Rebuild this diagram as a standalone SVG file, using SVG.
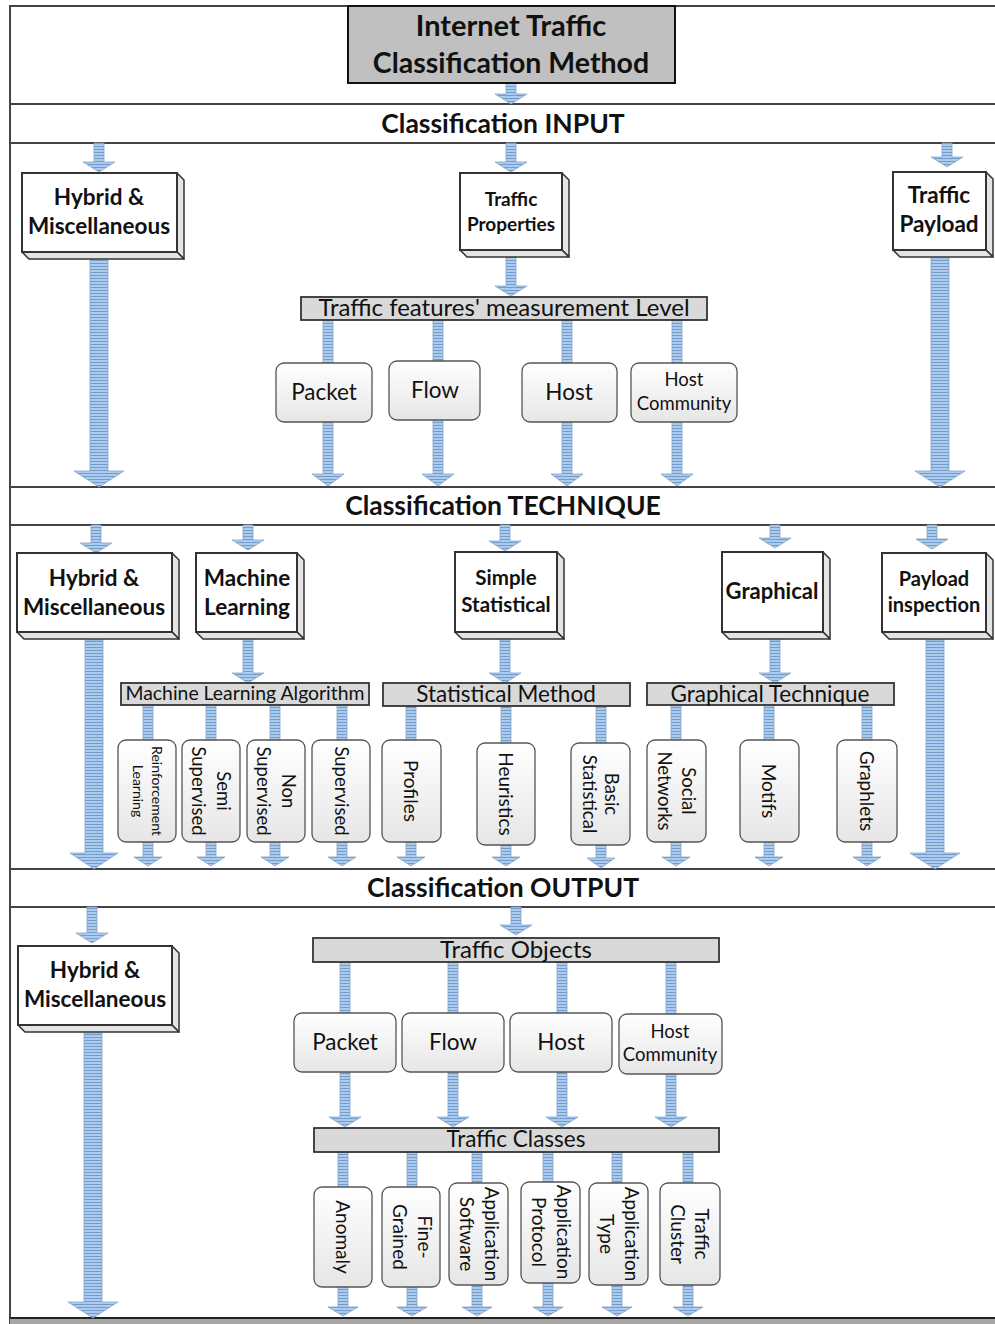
<svg xmlns="http://www.w3.org/2000/svg" width="995" height="1324" viewBox="0 0 995 1324">
<style>
text{font-family:Lato,"Liberation Sans",sans-serif;fill:#111;text-anchor:middle}
.b{font-weight:bold}
.band{font-weight:bold;font-size:26.5px}
.frame{stroke:#444;stroke-width:2;fill:none}
.front{fill:#fff;stroke:#333;stroke-width:2}
.side{fill:#e4e4e4;stroke:#333;stroke-width:1.5;stroke-linejoin:round}
.rbox{fill:url(#rg);stroke:#555;stroke-width:1.3}
.bar{fill:#d9d9d9;stroke:#333;stroke-width:1.8}
.arr{fill:url(#stripe);stroke:#86a5c8;stroke-width:0.8}
</style>
<defs>
<pattern id="stripe" patternUnits="userSpaceOnUse" width="8" height="3"><rect width="8" height="3" fill="#aecbeb"/><rect y="2" width="8" height="1" fill="#6f9dd2"/></pattern>
<linearGradient id="rg" x1="0" y1="0" x2="0" y2="1"><stop offset="0" stop-color="#ffffff"/><stop offset="1" stop-color="#e6e6e6"/></linearGradient>
</defs>
<rect width="995" height="1324" fill="#fff"/>

<g id="frame">
<path class="frame" d="M10 6H995M10 104H995M10 143H995M10 487H995M10 525H995M10 869H995M10 907H995M10 5V1324"/>
<rect x="10" y="1318" width="985" height="6" fill="#a6a6a6"/>
<path d="M10 1318H995" stroke="#222" stroke-width="2"/>
</g>

<g id="connectors">
<path class="arr" d="M506 83H516V94H527L511 104L495 94H506Z"/>
<path class="arr" d="M94 143H104V162H115L99 172L83 162H94Z"/>
<path class="arr" d="M506 143H516V162H527L511 172L495 162H506Z"/>
<path class="arr" d="M942 143H952V157H963L947 167L931 157H942Z"/>
<path class="arr" d="M90 260H108V471H124L99 487L74 471H90Z"/>
<path class="arr" d="M506 257H516V286H527L511 296L495 286H506Z"/>
<path class="arr" d="M931 258H949V471H965L940 487L915 471H931Z"/>
<rect class="arr" x="323" y="320" width="10" height="43"/>
<rect class="arr" x="433" y="320" width="10" height="41"/>
<rect class="arr" x="562" y="320" width="10" height="43"/>
<rect class="arr" x="672" y="320" width="10" height="43"/>
<path class="arr" d="M323 422H333V474H344L328 486L312 474H323Z"/>
<path class="arr" d="M433 420H443V474H454L438 486L422 474H433Z"/>
<path class="arr" d="M562 422H572V474H583L567 486L551 474H562Z"/>
<path class="arr" d="M672 422H682V474H693L677 486L661 474H672Z"/>

<path class="arr" d="M91 525H101V543H112L96 553L80 543H91Z"/>
<path class="arr" d="M243 525H253V540H264L248 550L232 540H243Z"/>
<path class="arr" d="M500 525H510V541H521L505 551L489 541H500Z"/>
<path class="arr" d="M770 525H780V538H791L775 548L759 538H770Z"/>
<path class="arr" d="M927 525H937V539H948L932 549L916 539H927Z"/>
<path class="arr" d="M85 640H103V853H118L94 869L70 853H85Z"/>
<path class="arr" d="M243 640H253V673H264L248 683L232 673H243Z"/>
<path class="arr" d="M500 640H510V673H521L505 683L489 673H500Z"/>
<path class="arr" d="M770 640H780V673H791L775 683L759 673H770Z"/>
<path class="arr" d="M926 640H944V853H960L935 869L910 853H926Z"/>
<rect class="arr" x="143" y="705" width="10" height="35"/>
<rect class="arr" x="206" y="705" width="10" height="35"/>
<rect class="arr" x="270" y="705" width="10" height="35"/>
<rect class="arr" x="337" y="705" width="10" height="35"/>
<path class="arr" d="M143 842H153V857H162L148 866L134 857H143Z"/>
<path class="arr" d="M206 842H216V857H225L211 866L197 857H206Z"/>
<path class="arr" d="M270 842H280V857H289L275 866L261 857H270Z"/>
<path class="arr" d="M337 842H347V857H356L342 866L328 857H337Z"/>
<rect class="arr" x="406" y="706" width="10" height="34"/>
<rect class="arr" x="501" y="706" width="10" height="37"/>
<rect class="arr" x="596" y="706" width="10" height="37"/>
<path class="arr" d="M406 842H416V857H425L411 866L397 857H406Z"/>
<path class="arr" d="M501 845H511V857H520L506 866L492 857H501Z"/>
<path class="arr" d="M596 845H606V858H615L601 868L587 858H596Z"/>
<rect class="arr" x="671" y="705" width="10" height="35"/>
<rect class="arr" x="764" y="705" width="10" height="35"/>
<rect class="arr" x="862" y="705" width="10" height="35"/>
<path class="arr" d="M671 842H681V857H690L676 866L662 857H671Z"/>
<path class="arr" d="M764 842H774V857H783L769 866L755 857H764Z"/>
<path class="arr" d="M862 842H872V857H881L867 866L853 857H862Z"/>

<path class="arr" d="M87 907H97V933H108L92 943L76 933H87Z"/>
<path class="arr" d="M84 1033H102V1302H118L93 1318L68 1302H84Z"/>
<path class="arr" d="M511 907H521V925H532L516 935L500 925H511Z"/>
<rect class="arr" x="340" y="962" width="10" height="51"/>
<rect class="arr" x="448" y="962" width="10" height="51"/>
<rect class="arr" x="557" y="962" width="10" height="51"/>
<rect class="arr" x="666" y="962" width="10" height="52"/>
<path class="arr" d="M340 1072H350V1117H361L345 1127L329 1117H340Z"/>
<path class="arr" d="M448 1072H458V1117H469L453 1127L437 1117H448Z"/>
<path class="arr" d="M557 1072H567V1117H578L562 1127L546 1117H557Z"/>
<path class="arr" d="M666 1074H676V1117H687L671 1127L655 1117H666Z"/>
<rect class="arr" x="338" y="1152" width="10" height="35"/>
<rect class="arr" x="407" y="1152" width="10" height="35"/>
<rect class="arr" x="472" y="1152" width="10" height="31"/>
<rect class="arr" x="543" y="1152" width="10" height="30"/>
<rect class="arr" x="612" y="1152" width="10" height="31"/>
<rect class="arr" x="683" y="1152" width="10" height="31"/>
<path class="arr" d="M338 1287H348V1307H358L343 1316L328 1307H338Z"/>
<path class="arr" d="M407 1287H417V1307H427L412 1316L397 1307H407Z"/>
<path class="arr" d="M472 1285H482V1307H492L477 1316L462 1307H472Z"/>
<path class="arr" d="M543 1283H553V1307H563L548 1316L533 1307H543Z"/>
<path class="arr" d="M612 1285H622V1307H632L617 1316L602 1307H612Z"/>
<path class="arr" d="M683 1285H693V1307H703L688 1316L673 1307H683Z"/>
</g>

<g id="title">
<rect x="348" y="6" width="327" height="77" fill="#c0c0c0" stroke="#111" stroke-width="2"/>
<text class="b" x="511" y="36" font-size="29">Internet Traffic</text>
<text class="b" x="511" y="73" font-size="28.5">Classification Method</text>
</g>
<g id="band-input"><text class="band" x="503" y="133">Classification INPUT</text></g>
<g id="band-technique"><text class="band" x="503" y="515" font-size="26">Classification TECHNIQUE</text></g>
<g id="band-output"><text class="band" x="503" y="897">Classification OUTPUT</text></g>

<g id="in-hybrid">
<polygon class="side" points="177,173 184,180 184,259 177,252"/>
<polygon class="side" points="22,252 177,252 184,259 29,259"/>
<rect class="front" x="22" y="173" width="155" height="79"/>
<text class="b" x="99" y="205" font-size="22.5">Hybrid &amp;</text>
<text class="b" x="99" y="234" font-size="22.5">Miscellaneous</text>
</g>
<g id="in-properties">
<polygon class="side" points="562,173 569,180 569,257 562,250"/>
<polygon class="side" points="460,250 562,250 569,257 467,257"/>
<rect class="front" x="460" y="173" width="102" height="77"/>
<text class="b" x="511" y="206" font-size="19">Traffic</text>
<text class="b" x="511" y="231" font-size="19">Properties</text>
</g>
<g id="in-payload">
<polygon class="side" points="986,172 993,179 993,257 986,250"/>
<polygon class="side" points="893,250 986,250 993,257 900,257"/>
<rect class="front" x="893" y="172" width="93" height="78"/>
<text class="b" x="939" y="203" font-size="22.5">Traffic</text>
<text class="b" x="939" y="232" font-size="22.5">Payload</text>
</g>
<g id="level-bar">
<rect class="bar" x="301" y="297" width="406" height="23"/>
<text x="504" y="316" font-size="24">Traffic features' measurement Level</text>
</g>
<g id="in-packet"><rect class="rbox" x="276" y="363" width="96" height="59" rx="8"/><text x="324" y="400" font-size="22.5">Packet</text></g>
<g id="in-flow"><rect class="rbox" x="389" y="361" width="91" height="59" rx="8"/><text x="435" y="398" font-size="22.5">Flow</text></g>
<g id="in-host"><rect class="rbox" x="522" y="363" width="95" height="59" rx="8"/><text x="569" y="400" font-size="22.5">Host</text></g>
<g id="in-hostcomm"><rect class="rbox" x="631" y="363" width="106" height="59" rx="8"/><text x="684" y="386" font-size="18.5">Host</text><text x="684" y="410" font-size="18.5">Community</text></g>

<g id="t-hybrid">
<polygon class="side" points="172,553 179,560 179,639 172,632"/>
<polygon class="side" points="17,632 172,632 179,639 24,639"/>
<rect class="front" x="17" y="553" width="155" height="79"/>
<text class="b" x="94" y="586" font-size="22.5">Hybrid &amp;</text>
<text class="b" x="94" y="615" font-size="22.5">Miscellaneous</text>
</g>
<g id="t-ml">
<polygon class="side" points="297,553 304,560 304,639 297,632"/>
<polygon class="side" points="196,632 297,632 304,639 203,639"/>
<rect class="front" x="196" y="553" width="101" height="79"/>
<text class="b" x="247" y="586" font-size="22.5">Machine</text>
<text class="b" x="247" y="615" font-size="22.5">Learning</text>
</g>
<g id="t-simple">
<polygon class="side" points="557,552 564,559 564,639 557,632"/>
<polygon class="side" points="455,632 557,632 564,639 462,639"/>
<rect class="front" x="455" y="552" width="102" height="80"/>
<text class="b" x="506" y="585" font-size="20.5">Simple</text>
<text class="b" x="506" y="612" font-size="20.5">Statistical</text>
</g>
<g id="t-graphical">
<polygon class="side" points="823,552 830,559 830,639 823,632"/>
<polygon class="side" points="722,632 823,632 830,639 729,639"/>
<rect class="front" x="722" y="552" width="101" height="80"/>
<text class="b" x="772" y="599" font-size="22">Graphical</text>
</g>
<g id="t-payload">
<polygon class="side" points="986,553 993,560 993,639 986,632"/>
<polygon class="side" points="882,632 986,632 993,639 889,639"/>
<rect class="front" x="882" y="553" width="104" height="79"/>
<text class="b" x="934" y="586" font-size="20">Payload</text>
<text class="b" x="934" y="612" font-size="20">inspection</text>
</g>
<g id="mla-bar"><rect class="bar" x="121" y="683" width="248" height="22"/><text x="245" y="700" font-size="19.4">Machine Learning Algorithm</text></g>
<g id="stat-bar"><rect class="bar" x="383" y="683" width="247" height="23"/><text x="506" y="702" font-size="22.5">Statistical Method</text></g>
<g id="graph-bar"><rect class="bar" x="647" y="683" width="247" height="22"/><text x="770" y="702" font-size="22.5">Graphical Technique</text></g>

<g id="ml-reinf"><rect class="rbox" x="118" y="740" width="58" height="102" rx="8"/><g transform="translate(147,791) rotate(90)"><text y="-5" font-size="14">Reinforcement</text><text y="14" font-size="14">Learning</text></g></g>
<g id="ml-semi"><rect class="rbox" x="182" y="740" width="58" height="102" rx="8"/><g transform="translate(211,791) rotate(90)"><text y="-6" font-size="18.5">Semi</text><text y="19" font-size="18.5">Supervised</text></g></g>
<g id="ml-non"><rect class="rbox" x="247" y="740" width="58" height="102" rx="8"/><g transform="translate(276,791) rotate(90)"><text y="-6" font-size="18.5">Non</text><text y="19" font-size="18.5">Supervised</text></g></g>
<g id="ml-sup"><rect class="rbox" x="312" y="740" width="58" height="102" rx="8"/><g transform="translate(341,791) rotate(90)"><text y="6" font-size="18.5">Supervised</text></g></g>
<g id="st-profiles"><rect class="rbox" x="382" y="740" width="59" height="102" rx="8"/><g transform="translate(411,791) rotate(90)"><text y="7" font-size="19">Profiles</text></g></g>
<g id="st-heur"><rect class="rbox" x="477" y="743" width="58" height="102" rx="8"/><g transform="translate(506,794) rotate(90)"><text y="7" font-size="19">Heuristics</text></g></g>
<g id="st-basic"><rect class="rbox" x="571" y="743" width="59" height="102" rx="8"/><g transform="translate(600,794) rotate(90)"><text y="-5" font-size="18.5">Basic</text><text y="17" font-size="18.5">Statistical</text></g></g>
<g id="gr-social"><rect class="rbox" x="647" y="740" width="59" height="102" rx="8"/><g transform="translate(676,791) rotate(90)"><text y="-6" font-size="18.5">Social</text><text y="18" font-size="18.5">Networks</text></g></g>
<g id="gr-motifs"><rect class="rbox" x="740" y="740" width="59" height="102" rx="8"/><g transform="translate(769,791) rotate(90)"><text y="7" font-size="19">Motifs</text></g></g>
<g id="gr-graphlets"><rect class="rbox" x="837" y="740" width="60" height="102" rx="8"/><g transform="translate(867,791) rotate(90)"><text y="7" font-size="19">Graphlets</text></g></g>

<g id="o-hybrid">
<polygon class="side" points="172,946 179,953 179,1032 172,1025"/>
<polygon class="side" points="18,1025 172,1025 179,1032 25,1032"/>
<rect class="front" x="18" y="946" width="154" height="79"/>
<text class="b" x="95" y="978" font-size="22.5">Hybrid &amp;</text>
<text class="b" x="95" y="1007" font-size="22.5">Miscellaneous</text>
</g>
<g id="objects-bar"><rect class="bar" x="313" y="938" width="406" height="24"/><text x="516" y="958" font-size="24">Traffic Objects</text></g>
<g id="o-packet"><rect class="rbox" x="294" y="1013" width="102" height="59" rx="8"/><text x="345" y="1050" font-size="22.5">Packet</text></g>
<g id="o-flow"><rect class="rbox" x="402" y="1013" width="102" height="59" rx="8"/><text x="453" y="1050" font-size="22.5">Flow</text></g>
<g id="o-host"><rect class="rbox" x="510" y="1013" width="102" height="59" rx="8"/><text x="561" y="1050" font-size="22.5">Host</text></g>
<g id="o-hostcomm"><rect class="rbox" x="619" y="1014" width="103" height="60" rx="8"/><text x="670" y="1038" font-size="18.5">Host</text><text x="670" y="1061" font-size="18.5">Community</text></g>
<g id="classes-bar"><rect class="bar" x="314" y="1128" width="405" height="24"/><text x="516" y="1147" font-size="22.5">Traffic Classes</text></g>
<g id="c-anomaly"><rect class="rbox" x="314" y="1187" width="58" height="100" rx="8"/><g transform="translate(343,1237) rotate(90)"><text y="7" font-size="19">Anomaly</text></g></g>
<g id="c-fine"><rect class="rbox" x="382" y="1187" width="58" height="100" rx="8"/><g transform="translate(411,1237) rotate(90)"><text y="-7" font-size="19">Fine-</text><text y="18" font-size="19">Grained</text></g></g>
<g id="c-appsw"><rect class="rbox" x="449" y="1183" width="59" height="102" rx="8"/><g transform="translate(478,1234) rotate(90)"><text y="-7" font-size="19">Application</text><text y="18" font-size="19">Software</text></g></g>
<g id="c-appprot"><rect class="rbox" x="521" y="1182" width="59" height="101" rx="8"/><g transform="translate(550,1232) rotate(90)"><text y="-7" font-size="19">Application</text><text y="18" font-size="19">Protocol</text></g></g>
<g id="c-apptype"><rect class="rbox" x="589" y="1183" width="59" height="102" rx="8"/><g transform="translate(618,1234) rotate(90)"><text y="-7" font-size="19">Application</text><text y="18" font-size="19">Type</text></g></g>
<g id="c-cluster"><rect class="rbox" x="660" y="1183" width="60" height="102" rx="8"/><g transform="translate(690,1234) rotate(90)"><text y="-5" font-size="19">Traffic</text><text y="19" font-size="19">Cluster</text></g></g>
</svg>
